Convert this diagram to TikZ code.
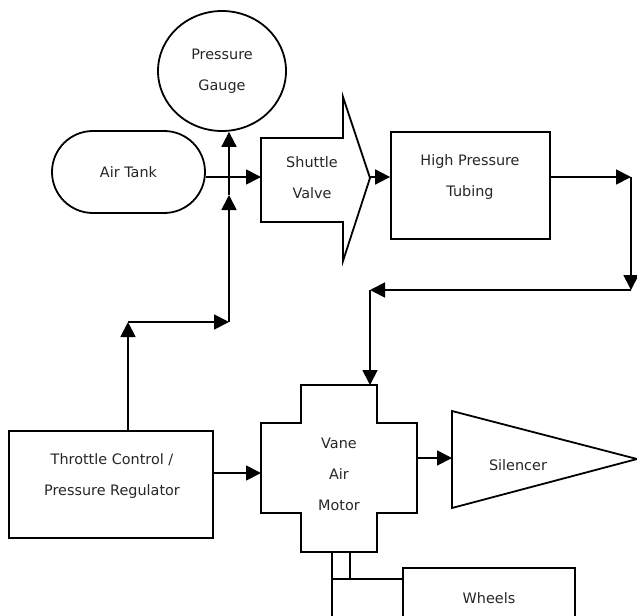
\documentclass[tikz,border=0pt]{standalone}
\usepackage{fontspec}
\setmainfont{DejaVu Sans}
\usetikzlibrary{arrows.meta,shapes.geometric}
\begin{document}
\begin{tikzpicture}[x=1bp,y=-1bp,
  outl/.style={draw, line width=1.8bp},
  txt/.style={font=\fontsize{14.4bp}{31bp}\selectfont, align=center, inner sep=0pt, text=black!85},
  conn/.style={line width=1.8bp, -{Triangle[length=15bp,width=15bp]}},
  wire/.style={line width=1.8bp},
]
\useasboundingbox (0,0) rectangle (637,616);

% Pressure gauge
\node[outl, ellipse, minimum width=128bp, minimum height=120bp, txt] (gauge) at (222,71) {Pressure\\Gauge};

% Air tank
\node[outl, rounded corners=40.9bp, minimum width=153bp, minimum height=82bp, txt] (tank) at (128.5,172) {Air Tank};

% Shuttle valve
\draw[outl] (261,138) -- (343,138) -- (343,97) -- (370,178) -- (343,261) -- (343,222) -- (261,222) -- cycle;
\node[txt] (sv) at (312,178) {Shuttle\\Valve};
\coordinate (svin) at (261,177);
\coordinate (svtip) at (370,177);

% High pressure tubing
\node[outl, minimum width=159bp, minimum height=107bp, inner sep=0pt] (hpt) at (470.5,185.5) {};
\node[txt] (hpttxt) at (470,177) {High Pressure\\Tubing};

% Throttle control
\node[outl, minimum width=204bp, minimum height=107bp, inner sep=0pt] (thr) at (111,484.5) {};
\node[txt] (thrtxt) at (112,476.5) {Throttle Control /\\Pressure Regulator};

% Vane air motor
\draw[outl] (301,385) -- (377,385) -- (377,423) -- (417,423) -- (417,513) -- (377,513) -- (377,552) -- (301,552) -- (301,513) -- (261,513) -- (261,423) -- (301,423) -- cycle;
\node[txt] (motor) at (339,474.5) {Vane\\Air\\Motor};
\coordinate (mtop) at (370,385);
\coordinate (min) at (261,473);
\coordinate (mout) at (417,458);
\coordinate (mbotl) at (332,552);
\coordinate (mbotr) at (350,552);

% Silencer
\draw[outl] (452,411) -- (637,459) -- (452,508) -- cycle;
\node[txt] (sil) at (518,465) {Silencer};
\coordinate (silin) at (452,458);

% Wheels
\node[outl, minimum width=172bp, minimum height=80bp, inner sep=0pt] (wheels) at (489,608) {};
\node[txt] (wheeltxt) at (489,598) {Wheels};

% Junctions
\coordinate (c1) at (631,177);
\coordinate (c2) at (631,290);
\coordinate (c3) at (370,290);
\coordinate (t1) at (128,322);
\coordinate (t2) at (229,322);
\coordinate (t3) at (229,195);
\coordinate (s1) at (332,579);
\coordinate (s2) at (350,579);
\coordinate (s3) at (332,625);

% Connectors
\draw[conn] (tank.east |- svin) -- (svin);
\draw[conn] (svtip) -- (hpt.west |- svtip);
\draw[conn] (hpt.east |- c1) -- (c1);
\draw[conn] (c1) -- (c2);
\draw[conn] (c2) -- (c3);
\draw[conn] (c3) -- (mtop);
\draw[conn] (thr.east |- min) -- (min);
\draw[conn] (mout) -- (silin);
\draw[conn] (thr.north -| t1) -- (t1);
\draw[conn] (t1) -- (t2);
\draw[conn] (t2) -- (t3);
\draw[conn] (t3) -- (t3 |- gauge.south);
\draw[wire] (mbotr) -- (s2);
\draw[wire] (mbotl) -- (s3);
\draw[wire] (s1) -- (wheels.west |- s1);
\end{tikzpicture}
\end{document}
